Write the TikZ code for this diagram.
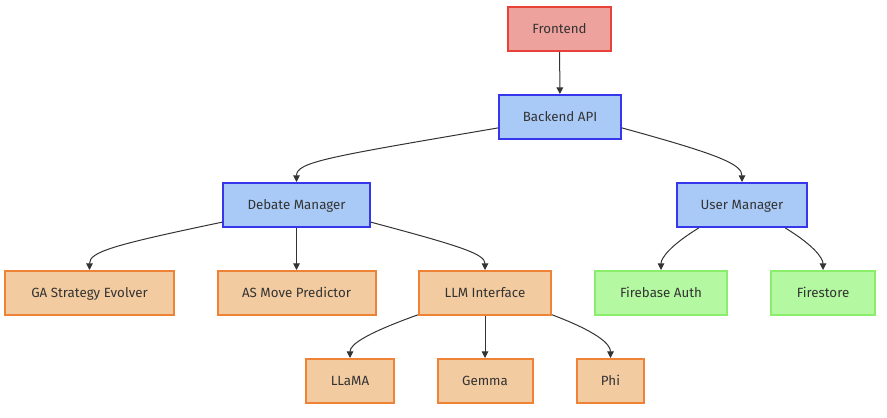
\documentclass[tikz,border=0pt]{standalone}
\usepackage{fontspec}
\setmainfont{Fira Sans}
\usetikzlibrary{arrows.meta}
\definecolor{txt}{HTML}{333333}
\definecolor{redfill}{HTML}{EEA29E}
\definecolor{redline}{HTML}{E8413A}
\definecolor{bluefill}{HTML}{A9CAF7}
\definecolor{blueline}{HTML}{3636EC}
\definecolor{orangefill}{HTML}{F3CBA0}
\definecolor{orangeline}{HTML}{EE8237}
\definecolor{greenfill}{HTML}{B4F9A2}
\definecolor{greenline}{HTML}{8BEE6A}
\tikzset{
  box/.style={draw, line width=1.5pt, text=txt, font=\fontsize{10}{12}\selectfont,
    minimum height=44*0.75pt, inner sep=0pt, text height=1.6ex, text depth=0.45ex},
  redbox/.style={box, fill=redfill, draw=redline},
  bluebox/.style={box, fill=bluefill, draw=blueline},
  orangebox/.style={box, fill=orangefill, draw=orangeline},
  greenbox/.style={box, fill=greenfill, draw=greenline},
  link/.style={draw=txt, line width=0.75pt, -{Triangle[length=5pt,width=5pt]}}
}
\begin{document}
\begin{tikzpicture}[x=0.75pt, y=-0.75pt]
\useasboundingbox (0,0) rectangle (887,417);

\node[redbox, minimum width=103*0.75pt](frontend) at (559.5,29) {Frontend};
\node[bluebox, minimum width=122*0.75pt](api) at (560,117) {Backend API};
\node[bluebox, minimum width=147*0.75pt](debate) at (296.5,205) {Debate Manager};
\node[bluebox, minimum width=130*0.75pt](user) at (742,205) {User Manager};
\node[orangebox, minimum width=169*0.75pt](ga) at (89.5,293) {GA Strategy Evolver};
\node[orangebox, minimum width=158*0.75pt](as) at (296.5,293) {AS Move Predictor};
\node[orangebox, minimum width=132*0.75pt](llm) at (485,293) {LLM Interface};
\node[greenbox, minimum width=132*0.75pt](fbauth) at (661,293) {Firebase Auth};
\node[greenbox, minimum width=104*0.75pt](fstore) at (823,293) {Firestore};
\node[orangebox, minimum width=88*0.75pt](llama) at (350,381) {LLaMA};
\node[orangebox, minimum width=95*0.75pt](gemma) at (485,381) {Gemma};
\node[orangebox, minimum width=67*0.75pt](phi) at (610.5,381) {Phi};

% straight links
\draw[link] (frontend) -- (api);
\draw[link] (debate.south) -- (as.north);
\draw[link] (llm.south) -- (gemma.north);

% curved links
\draw[link] (api.190) .. controls +(-170,29) and +(0,-20) .. (debate.north);
\draw[link] (api.350) .. controls +(95,26) and +(0,-18) .. (user.north);
\draw[link] (debate.193) .. controls +(-110,23) and +(0,-18) .. (ga.north);
\draw[link] (debate.347) .. controls +(90,24) and +(0,-16) .. (llm.north);
\draw[link] (user.208) .. controls +(-28,17) and +(0,-12) .. (fbauth.north);
\draw[link] (user.332) .. controls +(28,17) and +(0,-12) .. (fstore.north);
\draw[link] (llm.198) .. controls +(-50,18) and +(0,-14) .. (llama.north);
\draw[link] (llm.342) .. controls +(45,17) and +(0,-14) .. (phi.north);

\end{tikzpicture}
\end{document}
